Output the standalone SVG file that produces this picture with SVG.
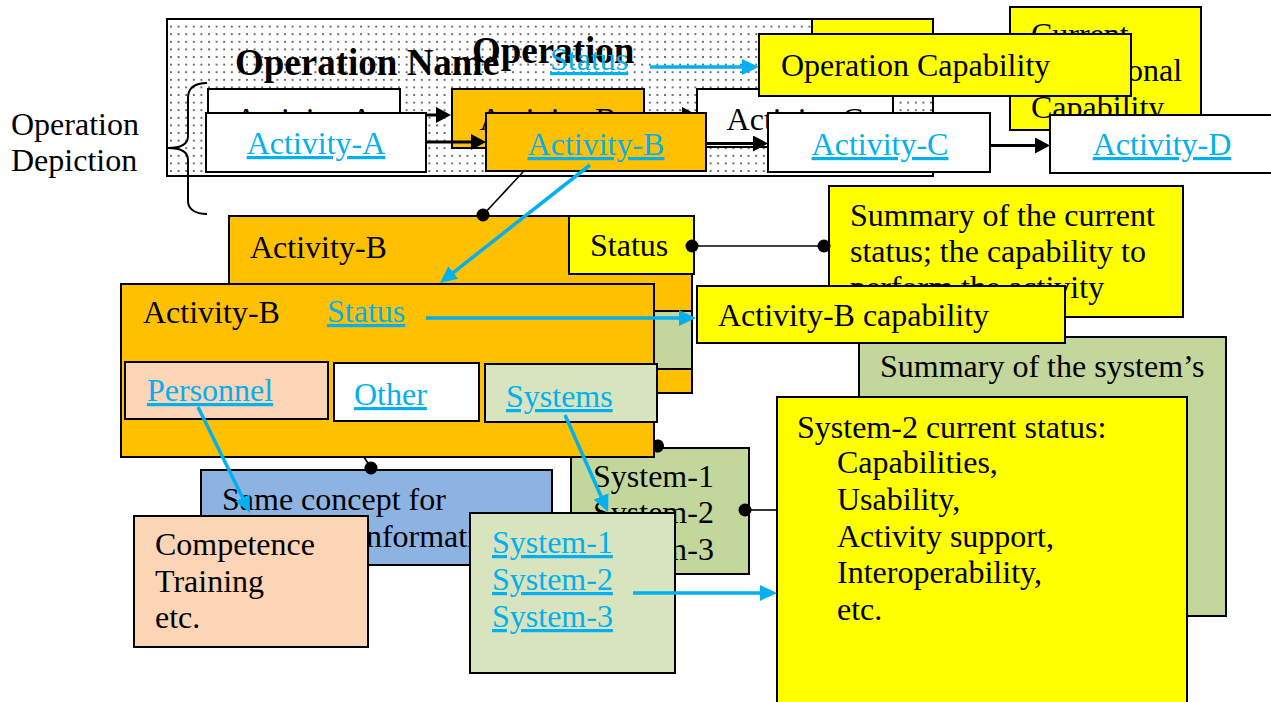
<svg xmlns="http://www.w3.org/2000/svg" width="1271" height="702" viewBox="0 0 1271 702">
<defs>
<style>
.t{font-family:"Liberation Serif","Times New Roman",serif;font-size:32px;fill:#000}
.bold{font-weight:bold;font-size:37px}
.link{fill:#00B0F0;text-decoration:underline}
.mid{text-anchor:middle}
.box{stroke:#000;stroke-width:2}
.orange{fill:#FFC000}.yellow{fill:#FFFF00}.white{fill:#fff}.peach{fill:#FBD5B5}
.lgreen{fill:#D7E4BD}.green{fill:#C3D69B}.blue{fill:#8DB3E2}
.arr{stroke:#000;stroke-width:3;fill:none;marker-end:url(#ahb)}
.carr{stroke:#00B0F0;stroke-width:3.5;fill:none;marker-end:url(#ahc)}
.thin{stroke:#000;stroke-width:1.6;fill:none}
.dot{fill:#000}
</style>
<pattern id="dots" width="7.6" height="7.6" patternUnits="userSpaceOnUse">
<rect width="7.6" height="7.6" fill="#fff"/><circle cx="3.8" cy="3.8" r="1.05" fill="#444"/>
</pattern>
<marker id="ahb" markerUnits="userSpaceOnUse" markerWidth="16" markerHeight="16" refX="9" refY="8" orient="auto"><path d="M0,0 L15,8 L0,16 Z" fill="#000"/></marker>
<marker id="ahc" markerUnits="userSpaceOnUse" markerWidth="18" markerHeight="16" refX="11" refY="8" orient="auto"><path d="M0,0 L17,8 L0,16 Z" fill="#00B0F0"/></marker>
</defs>

<g id="operation-frame">
<rect x="167" y="19" width="766" height="157" fill="url(#dots)" class="box"/>
<text class="t bold" x="235" y="75">Operation Name</text>
<text class="t bold" x="472" y="63">Operation</text>
<text class="t link" x="550" y="70">Status</text>
</g>

<g id="old-operation-status"><rect x="812" y="19" width="121" height="60" class="box yellow"/></g>

<g id="old-activity-a"><rect x="208" y="89" width="192" height="59" class="box white"/><text class="t mid" x="304" y="130">Activity-A</text></g>
<g id="old-activity-b"><rect x="452" y="89" width="192" height="59" class="box orange"/><text class="t mid" x="548" y="130">Activity-B</text></g>
<g id="old-activity-c"><rect x="697" y="89" width="196" height="58" class="box white"/><text class="t mid" x="795" y="130">Activity-C</text></g>

<g id="connectors-old">
<line x1="400" y1="115" x2="445" y2="115" class="arr"/>
<line x1="644" y1="115" x2="691" y2="115" class="arr"/>
</g>

<g id="current-operational-capability">
<rect x="1010" y="7" width="191" height="123" class="box yellow"/>
<text class="t" x="1031" y="45">Current</text>
<text class="t" x="1031" y="81">Operational</text>
<text class="t" x="1031" y="118">Capability</text>
</g>

<g id="activity-a"><rect x="206" y="113" width="220" height="59" class="box white"/><text class="t link mid" x="316" y="154">Activity-A</text></g>
<g id="activity-b"><rect x="486" y="113" width="220" height="58" class="box orange"/><text class="t link mid" x="596" y="155">Activity-B</text></g>
<g id="activity-c"><rect x="768" y="113" width="222" height="59" class="box white"/><text class="t link mid" x="880" y="155">Activity-C</text></g>
<g id="activity-d"><rect x="1050" y="115" width="222" height="58" class="box white"/><text class="t link mid" x="1162" y="155">Activity-D</text></g>

<g id="operation-capability">
<rect x="759" y="34" width="372" height="62" class="box yellow"/>
<text class="t" x="781" y="76">Operation Capability</text>
</g>

<g id="operation-depiction">
<text class="t" x="11" y="135">Operation</text>
<text class="t" x="11" y="171">Depiction</text>
<path d="M207,83 C195,83 188,88 188,98 L188,136 C188,144 181,148 168,148 C181,148 188,152 188,160 L188,201 C188,209 195,214 207,214" fill="none" stroke="#000" stroke-width="2"/>
</g>

<g id="old-activity-b-detail">
<rect x="229" y="216" width="463" height="177" class="box orange"/>
<text class="t" x="250" y="258">Activity-B</text>
<rect x="548" y="311" width="144" height="58" class="box green"/>
</g>

<g id="old-status">
<rect x="569" y="216" width="125" height="58" class="box yellow"/>
<text class="t" x="590" y="256">Status</text>
</g>

<g id="summary-current-status">
<rect x="829" y="186" width="354" height="131" class="box yellow"/>
<text class="t" x="850" y="226">Summary of the current</text>
<text class="t" x="850" y="262">status; the capability to</text>
<text class="t" x="850" y="298">perform the activity</text>
</g>

<g id="summary-systems">
<rect x="859" y="337" width="367" height="279" class="box green"/>
<text class="t" x="880" y="377">Summary of the system’s</text>
</g>

<g id="system-2-status">
<rect x="777" y="397" width="410" height="320" class="box yellow"/>
<text class="t" x="797" y="438">System-2 current status:</text>
<text class="t" x="837" y="473">Capabilities,</text>
<text class="t" x="837" y="510">Usability,</text>
<text class="t" x="837" y="547">Activity support,</text>
<text class="t" x="837" y="583">Interoperability,</text>
<text class="t" x="837" y="620">etc.</text>
</g>

<g id="activity-b-capability">
<rect x="697" y="286" width="368" height="57" class="box yellow"/>
<text class="t" x="718" y="326">Activity-B capability</text>
</g>

<g id="old-systems-list">
<rect x="571" y="448" width="178" height="126" class="box green"/>
<text class="t" x="593" y="487">System-1</text>
<text class="t" x="593" y="523">System-2</text>
<text class="t" x="593" y="560">System-3</text>
</g>

<g id="information">
<rect x="201" y="470" width="351" height="95" class="box blue"/>
<text class="t" x="222" y="510">Same concept for</text>
<text class="t" x="357" y="547">information</text>
</g>

<g id="activity-b-detail">
<rect x="121" y="284" width="533" height="173" class="box orange"/>
<text class="t" x="143" y="323">Activity-B</text>
<text class="t link" x="327" y="322">Status</text>
<g id="personnel"><rect x="125" y="362" width="203" height="57" class="box peach"/><text class="t link" x="147" y="401">Personnel</text></g>
<g id="other"><rect x="334" y="363" width="145" height="58" class="box white"/><text class="t link" x="354" y="405">Other</text></g>
<g id="systems"><rect x="485" y="364" width="172" height="58" class="box lgreen"/><text class="t link" x="506" y="407">Systems</text></g>
</g>

<g id="competence">
<rect x="134" y="516" width="234" height="131" class="box peach"/>
<text class="t" x="155" y="555">Competence</text>
<text class="t" x="155" y="592">Training</text>
<text class="t" x="155" y="628">etc.</text>
</g>

<g id="systems-list">
<rect x="470" y="513" width="205" height="160" class="box lgreen"/>
<text class="t link" x="492" y="553">System-1</text>
<text class="t link" x="492" y="590">System-2</text>
<text class="t link" x="492" y="627">System-3</text>
</g>

<g id="connectors">
<line x1="426" y1="142" x2="480" y2="142" class="arr"/>
<line x1="706" y1="143.5" x2="762" y2="143.5" class="arr"/>
<line x1="990" y1="145.5" x2="1044" y2="145.5" class="arr"/>
<line x1="650" y1="67" x2="753" y2="67" class="carr"/>
<line x1="590" y1="165" x2="444.7" y2="279.3" class="carr"/>
<line x1="426" y1="318" x2="690" y2="318" class="carr"/>
<line x1="198" y1="407" x2="247.4" y2="507.6" class="carr"/>
<line x1="565" y1="415" x2="605.6" y2="506.5" class="carr"/>
<line x1="633" y1="593" x2="771" y2="593" class="carr"/>
<line x1="523" y1="172" x2="483" y2="215" class="thin"/>
<circle cx="483" cy="215" r="6.5" class="dot"/>
<line x1="692" y1="246" x2="824" y2="246" class="thin"/>
<circle cx="692" cy="246" r="6.5" class="dot"/>
<circle cx="824" cy="246" r="6.5" class="dot"/>
<line x1="364" y1="457" x2="371" y2="468" class="thin"/>
<circle cx="371" cy="468" r="6.5" class="dot"/>
<path d="M655,440 A6.5,6.5 0 1 1 655,452 Z" class="dot"/>
<line x1="745" y1="510" x2="777" y2="510" class="thin"/>
<circle cx="745" cy="510" r="6.5" class="dot"/>
</g>
</svg>
